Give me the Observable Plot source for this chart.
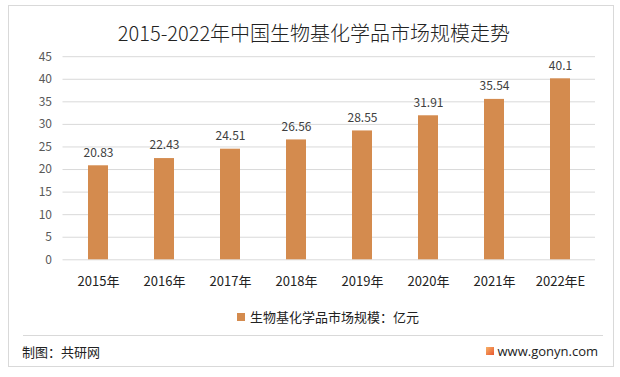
<!DOCTYPE html>
<html>
<head>
<meta charset="utf-8">
<script src="https://cdn.jsdelivr.net/npm/d3@7"></script>
<script src="https://cdn.jsdelivr.net/npm/@observablehq/plot@0.6"></script>
<style>
  html, body { margin: 0; padding: 0; background: #fff; }
  body { width: 620px; height: 377px; position: relative; overflow: hidden;
         font-family: "Noto Sans CJK SC", "Noto Sans", sans-serif; }
  #frame { position: absolute; left: 8px; top: 5px; width: 606px; height: 362px;
           border: 1px solid #d9d9d9; box-sizing: border-box; }
  #title { position: absolute; left: 4px; width: 620px; top: 19px; text-align: center;
           font-size: 20px; color: #222; font-weight: 300; line-height: 28px; }
  #chart { position: absolute; left: 0; top: 0; }
  #legend { position: absolute; top: 308px; left: 237px; font-size: 13px; color: #222;
            line-height: 18px; display: flex; align-items: center; }
  #legend .sw { width: 8px; height: 8px; margin-right: 5px; }
  #sep { position: absolute; left: 23px; top: 335px; width: 580px; height: 1px; background: #d9d9d9; }
  #src { position: absolute; left: 22px; top: 343px; font-size: 13px; color: #222; line-height: 18px; }
  #site { position: absolute; right: 22px; top: 342px; font-size: 13px; color: #222; line-height: 18px;
          display: flex; align-items: center; font-family: "Open Sans", "Noto Sans", sans-serif; }
  #site .logo { width: 8px; height: 8px; margin-right: 4px;
                background: linear-gradient(135deg, #f7b267, #e8572f); }
</style>
</head>
<body>
<div id="frame"></div>
<div id="title">2015-2022年中国生物基化学品市场规模走势</div>
<div id="chart"></div>
<div id="legend"><span class="sw"></span><span id="legendText"></span></div>
<div id="sep"></div>
<div id="src">制图：共研网</div>
<div id="site"><span class="logo"></span>www.gonyn.com</div>
<script>
const years = ["2015年", "2016年", "2017年", "2018年", "2019年", "2020年", "2021年", "2022年E"];
const values = [20.83, 22.43, 24.51, 26.56, 28.55, 31.91, 35.54, 40.1];
const valueLabels = ["20.83", "22.43", "24.51", "26.56", "28.55", "31.91", "35.54", "40.1"];
const yTicks = [0, 5, 10, 15, 20, 25, 30, 35, 40, 45];
const seriesName = "生物基化学品市场规模：亿元";
const barColor = "#D48B4E";

document.getElementById("legendText").textContent = seriesName;
document.querySelector("#legend .sw").style.background = barColor;

const data = years.map((y, i) => ({year: y, value: values[i], label: valueLabels[i]}));

const chart = Plot.plot({
  width: 620,
  height: 300,
  marginTop: 56.2,
  marginBottom: 40.7,
  marginLeft: 62.5,
  marginRight: 25,
  style: {fontFamily: "'Noto Sans CJK SC', 'Noto Sans', sans-serif", background: "transparent", overflow: "visible"},
  x: {domain: years, paddingInner: 0.69, paddingOuter: 0.345, label: null},
  y: {domain: [0, 45], label: null},
  marks: [
    Plot.ruleY(yTicks, {stroke: "#d9d9d9", strokeWidth: 1}),
    Plot.barY(data, {x: "year", y: "value", fill: barColor}),
    Plot.text(data, {x: "year", y: "value", text: "label", dy: -13, fill: "#404040", fontSize: 12}),
    Plot.axisY({ticks: yTicks, tickSize: 0, tickPadding: 11, fontSize: 12, fill: "#595959", label: null}),
    Plot.axisX({tickSize: 0, tickPadding: 17, fontSize: 13, fill: "#222", label: null})
  ]
});
document.getElementById("chart").appendChild(chart);
</script>
</body>
</html>
